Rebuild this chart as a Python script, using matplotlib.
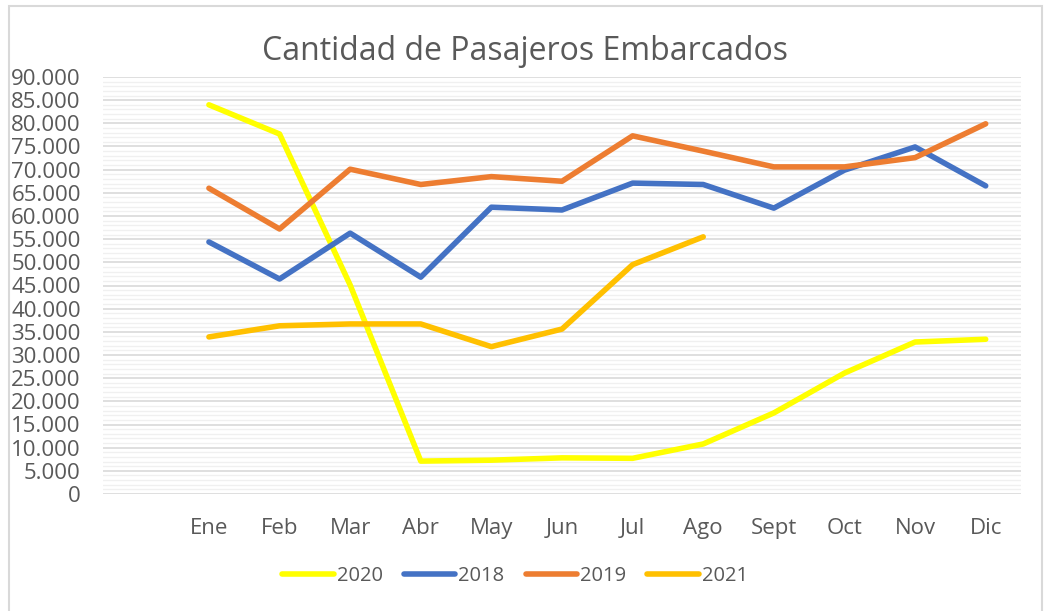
import matplotlib
matplotlib.use("Agg")
import matplotlib.pyplot as plt
from matplotlib.ticker import MultipleLocator, FuncFormatter
from matplotlib.patches import Rectangle

months = ["Ene", "Feb", "Mar", "Abr", "May", "Jun", "Jul", "Ago", "Sept", "Oct", "Nov", "Dic"]
v2020 = [84000, 77700, 45100, 7100, 7300, 7800, 7700, 10800, 17500, 26100, 32800, 33400]
v2018 = [54400, 46400, 56300, 46800, 61900, 61300, 67100, 66800, 61700, 69900, 74900, 66500]
v2019 = [66000, 57200, 70100, 66800, 68500, 67500, 77300, 74000, 70600, 70600, 72600, 79900]
v2021 = [33900, 36300, 36700, 36700, 31800, 35600, 49500, 55500]

series = [("2020", v2020, "#FFFF00"), ("2018", v2018, "#4472C4"),
          ("2019", v2019, "#ED7D31"), ("2021", v2021, "#FFC000")]

plt.rcParams['font.family'] = ['Open Sans', 'DejaVu Sans']
txt = "#595959"

fig = plt.figure(figsize=(10.45, 6.11), dpi=100)
ax = fig.add_axes([103/1045, 1-494/611, (1021-103)/1045, (494-77)/611])

for name, vals, col in series:
    ax.plot(range(len(vals)), vals, color=col, lw=4, label=name, solid_capstyle='round', solid_joinstyle='round', zorder=3)

ax.set_xlim(-1.5, 11.5)
ax.set_ylim(0, 90000)
ax.set_xticks(range(len(months)))
ax.set_xticklabels(months)
ax.yaxis.set_major_locator(MultipleLocator(5000))
ax.yaxis.set_minor_locator(MultipleLocator(1000))
ax.yaxis.set_major_formatter(FuncFormatter(lambda v, p: f"{int(v):,}".replace(",", ".")))
ax.grid(which='minor', axis='y', color='#f0f0f0', lw=1, zorder=0)
ax.grid(which='major', axis='y', color='#d9d9d9', lw=1.2, zorder=1)
ax.set_axisbelow(True)
for s in ax.spines.values():
    s.set_visible(False)
ax.tick_params(axis='both', which='both', length=0, colors=txt, labelsize=16)
ax.tick_params(axis='y', pad=16)
ax.tick_params(axis='x', pad=17.5)

fig.text(525/1045, 1-52/611, "Cantidad de Pasajeros Embarcados", ha='center', va='center',
         fontsize=23, color=txt)

leg = fig.legend(loc='center', bbox_to_anchor=(515/1045, 1-576/611), ncol=4, frameon=False,
                 fontsize=14.5, handlelength=2.55, handletextpad=0.15, columnspacing=1.05)
for t in leg.get_texts():
    t.set_color(txt)

fig.patches.append(Rectangle((9/1045, -0.01), (1042-9)/1045, 1-6/611+0.01, transform=fig.transFigure,
                             fill=False, edgecolor='#d9d9d9', lw=1.5))

fig.savefig("out.png", dpi=100)
